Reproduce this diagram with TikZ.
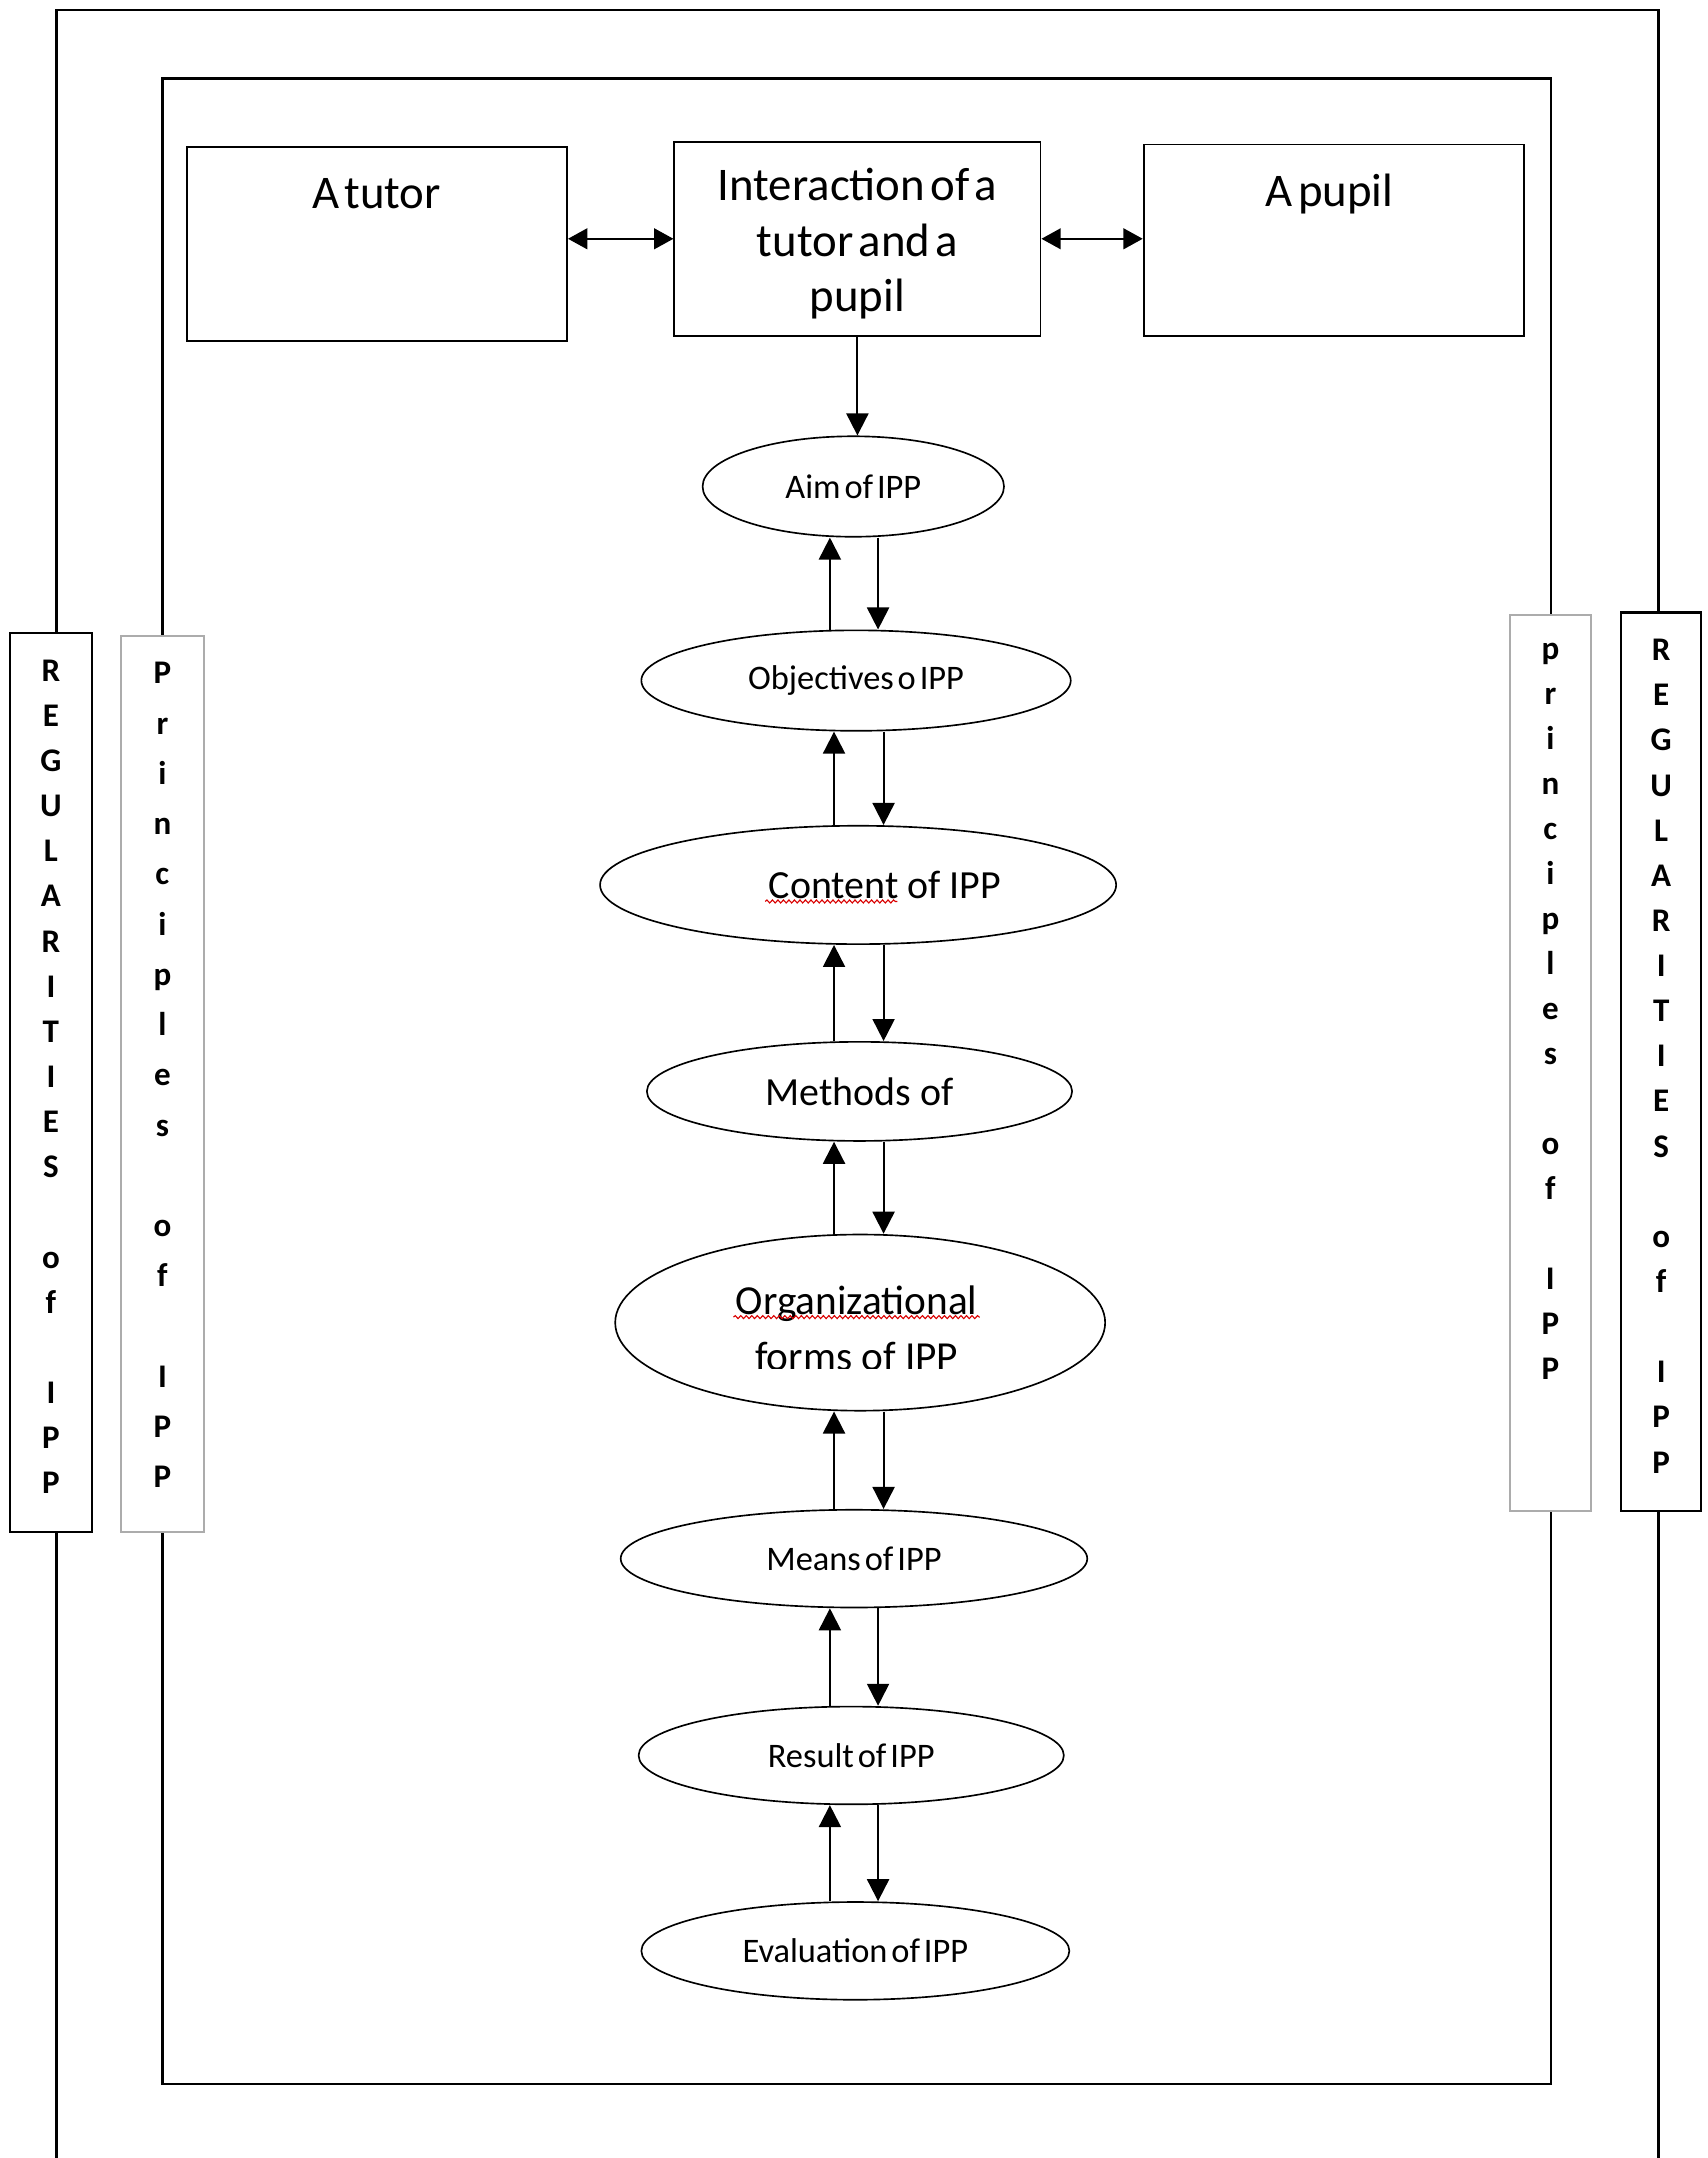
\documentclass[tikz,border=0pt]{standalone}
\usepackage{fontspec}
\setmainfont{Carlito}
\newfontfamily\tightfont[WordSpace=0.5]{Carlito}
\usetikzlibrary{arrows.meta,shapes.geometric,calc,decorations.pathmorphing}
\begin{document}
\begin{tikzpicture}[x=1pt,y=-1pt,
  frame/.style={line width=1.6pt, draw=black},
  topbox/.style={draw, line width=1.4pt, inner sep=0pt, align=center},
  bigtext/.style={inner sep=0pt, font=\tightfont\fontsize{34}{40}\selectfont},
  ell/.style={ellipse, draw, line width=1.2pt, inner sep=0pt},
  smalltext/.style={font=\tightfont\fontsize{25}{30}\selectfont},
  largetext/.style={font=\fontsize{29}{36}\selectfont},
  arr/.style={line width=1.5pt, -{Triangle[length=16pt,width=16pt]}},
  darr/.style={line width=1.5pt, {Triangle[length=14pt,width=15pt]}-{Triangle[length=14pt,width=15pt]}},
  regbox/.style={draw=black, line width=1.6pt, inner sep=0pt},
  prbox/.style={draw=gray!65, line width=1.6pt, inner sep=0pt},
  vtext/.style={inner sep=0pt, align=center, anchor=north},
  squig/.style={draw=red!85!black, line width=0.8pt, decorate,
    decoration={snake, amplitude=1.1pt, segment length=4pt}}
]
\useasboundingbox (0,0) rectangle (1241,1568);

% frame corners
\coordinate (oTL) at (41,7);
\coordinate (oTR) at (1205,7);
\coordinate (oBL) at (41,1568);
\coordinate (oBR) at (1205,1568);
\coordinate (iTL) at (118,57);
\coordinate (iTR) at (1127,57);
\coordinate (iBL) at (118,1514);
\coordinate (iBR) at (1127,1514);

% side boxes
\node[regbox, minimum width=60pt, minimum height=653pt] (regL) at (37,786.5) {};
\node[prbox, minimum width=60pt, minimum height=651pt] (prL) at (118,787.5) {};
\node[prbox, minimum width=59pt, minimum height=651pt] (prR) at (1126.5,772.5) {};
\node[regbox, minimum width=58pt, minimum height=653pt] (regR) at (1207,771.5) {};

\node[vtext, font=\bfseries\fontsize{24}{32.8}\selectfont] (regLt) at ($(regL.north)+(0,20)$)
  {R\\E\\G\\U\\L\\A\\R\\I\\T\\I\\E\\S\\[32.8pt]o\\f\\[32.8pt]I\\P\\P};
\node[vtext, font=\bfseries\fontsize{24}{36.5}\selectfont] (prLt) at ($(prL.north)+(0,20)$)
  {P\\r\\i\\n\\c\\i\\p\\l\\e\\s\\[36.5pt]o\\f\\[36.5pt]I\\P\\P};
\node[vtext, font=\bfseries\fontsize{24}{32.7}\selectfont] (prRt) at ($(prR.north)+(0,21)$)
  {p\\r\\i\\n\\c\\i\\p\\l\\e\\s\\[32.7pt]o\\f\\[32.7pt]I\\P\\P};
\node[vtext, font=\bfseries\fontsize{24}{32.8}\selectfont] (regRt) at ($(regR.north)+(0,20)$)
  {R\\E\\G\\U\\L\\A\\R\\I\\T\\I\\E\\S\\[32.8pt]o\\f\\[32.8pt]I\\P\\P};

% frames
\draw[frame] (regL.north -| oTL) -- (oTL) -- (oTR) -- (regR.north -| oTR);
\draw[frame] (regL.south -| oTL) -- (oBL);
\draw[frame] (regR.south -| oTR) -- (oBR);
\draw[frame] (prL.north -| iTL) -- (iTL) -- (iTR) -- (prR.north -| iTR);
\draw[frame] (prL.south -| iTL) -- (iBL) -- (iBR) -- (prR.south -| iTR);

% top row
\node[topbox, minimum width=276pt, minimum height=141pt] (tutor) at (274,177.5) {};
\node[bigtext, anchor=base] (tutort) at (273.5,151.5) {A tutor};
\node[topbox, minimum width=266pt, minimum height=141pt] (inter) at (623,173.5) {};
\node[bigtext, align=center] (intert) at (623,177) {Interaction of a\\tutor and a\\pupil};
\node[topbox, minimum width=276pt, minimum height=139pt] (pupil) at (969,174.5) {};
\node[bigtext, anchor=base] (pupilt) at (966,150) {A pupil};

\draw[darr] (tutor.east |- inter.west) -- (inter.west);
\draw[darr] (inter.east) -- (pupil.west |- inter.east);

% ellipses
\node[ell, smalltext, minimum width=219pt, minimum height=73pt] (aim) at (620,353.5) {Aim of IPP};
\node[ell, smalltext, minimum width=312pt, minimum height=73pt] (obj) at (622,494.5) {Objectives o IPP};
\node[ell, largetext, minimum width=375pt, minimum height=86pt] (con) at (623.5,643) {\hspace*{39pt}Content of IPP};
\node[ell, largetext, minimum width=309pt, minimum height=72pt] (met) at (624.5,793) {Methods of};
\node[ell, minimum width=356pt, minimum height=128pt] (org) at (625,961) {};
\node[ell, smalltext, minimum width=339pt, minimum height=71pt] (mea) at (620.5,1132.5) {Means of IPP};
\node[ell, smalltext, minimum width=309pt, minimum height=71pt] (res) at (618.5,1275.5) {Result of IPP};
\node[ell, smalltext, minimum width=311pt, minimum height=71pt] (eva) at (621.5,1417.5) {Evaluation of IPP};

\begin{scope}
  \clip ($(org.center)+(-170,-60)$) rectangle ($(org.center)+(170,33)$);
  \node[inner sep=0pt, align=center, anchor=north, font=\fontsize{30}{41}\selectfont] (orgt) at (622.5,934) {Organizational\\forms of IPP};
\end{scope}

% spell-check marks
\draw[squig] (556,655) -- (652,655);
\draw[squig] (533,957) -- (712,957);

% arrows
\draw[arr] (inter.south) -- (inter.south |- aim.north);

\coordinate (ua) at (603,0);
\coordinate (da) at (638,0);
\coordinate (ub) at (606,0);
\coordinate (db) at (642,0);

\draw[arr] (obj.north -| ua) -- (aim.south -| ua);
\draw[arr] (aim.south -| da) -- (obj.north -| da);
\draw[arr] (con.north -| ub) -- (obj.south -| ub);
\draw[arr] (obj.south -| db) -- (con.north -| db);
\draw[arr] (met.north -| ub) -- (con.south -| ub);
\draw[arr] (con.south -| db) -- (met.north -| db);
\draw[arr] (org.north -| ub) -- (met.south -| ub);
\draw[arr] (met.south -| db) -- (org.north -| db);
\draw[arr] (mea.north -| ub) -- (org.south -| ub);
\draw[arr] (org.south -| db) -- (mea.north -| db);
\draw[arr] (res.north -| ua) -- (mea.south -| ua);
\draw[arr] (mea.south -| da) -- (res.north -| da);
\draw[arr] (eva.north -| ua) -- (res.south -| ua);
\draw[arr] (res.south -| da) -- (eva.north -| da);
\end{tikzpicture}
\end{document}
